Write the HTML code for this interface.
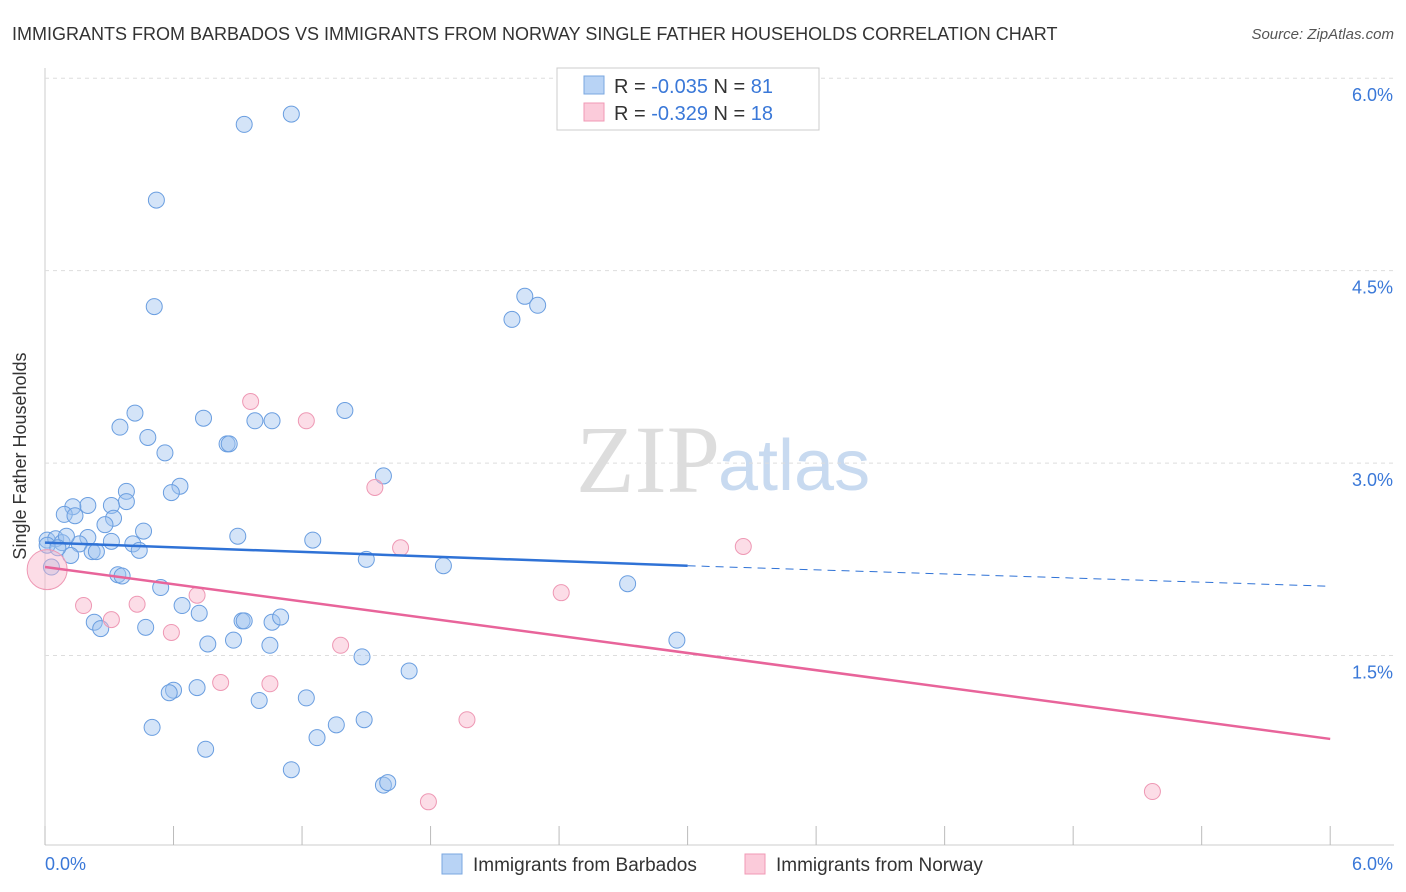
<!DOCTYPE html>
<html><head><meta charset="utf-8"><style>
body{margin:0;background:#fff;font-family:"Liberation Sans",sans-serif;}
svg{display:block}
</style></head><body>
<svg id="c" width="1406" height="892">
<text x="12" y="40" font-size="18" fill="#333">IMMIGRANTS FROM BARBADOS VS IMMIGRANTS FROM NORWAY SINGLE FATHER HOUSEHOLDS CORRELATION CHART</text>
<text x="1394" y="39" font-size="15" fill="#555" text-anchor="end" font-style="italic">Source: ZipAtlas.com</text>
<text x="26" y="456" font-size="18" fill="#333" text-anchor="middle" transform="rotate(-90 26 456)">Single Father Households</text>
<text x="720" y="492" font-size="96" fill="#ddd" font-family="Liberation Serif" text-anchor="end">ZIP</text>
<text x="718" y="490" font-size="72" fill="#c8daf0">atlas</text>
<g id="grid"></g><g id="pts"></g><g id="lines"></g>
<g>
<rect x="557" y="68" width="262" height="62" fill="#fff" stroke="#ccc"/>
<rect x="584" y="76" width="20" height="18" fill="#b8d3f5" stroke="#7aa7e0"/>
<rect x="584" y="103" width="20" height="18" fill="#fbcbda" stroke="#f09ab5"/>
<text x="614" y="93" font-size="20" fill="#333">R = <tspan fill="#3a78d8">-0.035</tspan>   N = <tspan fill="#3a78d8">81</tspan></text>
<text x="614" y="120" font-size="20" fill="#333">R = <tspan fill="#3a78d8">-0.329</tspan>   N = <tspan fill="#3a78d8">18</tspan></text>
</g>
<g>
<rect x="442" y="854" width="20" height="20" fill="#b8d3f5" stroke="#7aa7e0"/>
<text x="473" y="871" font-size="19" fill="#333">Immigrants from Barbados</text>
<rect x="745" y="854" width="20" height="20" fill="#fbcbda" stroke="#f09ab5"/>
<text x="776" y="871" font-size="19" fill="#333">Immigrants from Norway</text>
</g>
</svg>
<script>
const xTicks=[0,0.6,1.2,1.8,2.4,3.0,3.6,4.2,4.8,5.4,6.0];
const yTicks=[1.5,3.0,4.5,6.0];
const yTickLabels=["1.5%","3.0%","4.5%","6.0%"];
const xEndLabels=["0.0%","6.0%"];
const barbadosX=[0.93,1.15,0.52,0.51,2.24,2.30,2.18,0.42,0.35,0.48,0.74,1.40,0.98,1.06,0.85,0.86,0.56,1.58,0.63,0.59,0.38,0.38,0.31,0.20,0.13,0.09,0.14,0.32,0.28,0.46,0.90,1.25,0.01,0.05,0.08,0.20,0.16,0.10,0.41,0.44,0.22,0.24,0.12,1.50,1.86,0.03,0.34,0.36,0.54,2.72,0.64,0.72,0.23,0.26,0.47,0.92,0.93,1.06,1.10,0.76,0.88,1.05,2.95,1.48,1.70,0.60,0.58,0.71,1.22,1.00,0.50,1.36,1.49,1.27,0.75,1.15,1.58,1.60,0.01,0.06,0.31];
const barbadosY=[5.64,5.72,5.05,4.22,4.30,4.23,4.12,3.39,3.28,3.20,3.35,3.41,3.33,3.33,3.15,3.15,3.08,2.90,2.82,2.77,2.78,2.70,2.67,2.67,2.66,2.60,2.59,2.57,2.52,2.47,2.43,2.40,2.40,2.41,2.38,2.42,2.37,2.43,2.37,2.32,2.31,2.31,2.28,2.25,2.20,2.19,2.13,2.12,2.03,2.06,1.89,1.83,1.76,1.71,1.72,1.77,1.77,1.76,1.80,1.59,1.62,1.58,1.62,1.49,1.38,1.23,1.21,1.25,1.17,1.15,0.94,0.96,1.00,0.86,0.77,0.61,0.49,0.51,2.36,2.34,2.39];
const norwayX=[0.96,1.22,1.54,1.66,3.26,2.41,0.71,0.18,0.43,0.31,0.59,1.38,0.82,1.05,1.97,1.79,5.17,0.01];
const norwayY=[3.48,3.33,2.81,2.34,2.35,1.99,1.97,1.89,1.90,1.78,1.68,1.58,1.29,1.28,1.00,0.36,0.44,2.17];
const trendB=[[0,2.38],[3.0,2.2],[6.0,2.04]];
const trendN=[[0,2.19],[6.0,0.85]];
const X=v=>45+v*214.2, Y=v=>848-v*128.3;
const NS="http://www.w3.org/2000/svg";
function mk(t,a,p){const e=document.createElementNS(NS,t);for(const k in a)e.setAttribute(k,a[k]);p.appendChild(e);return e;}
const g=document.getElementById('grid');
mk('line',{x1:45,y1:68,x2:45,y2:845,stroke:'#ccc'},g);
mk('line',{x1:45,y1:845,x2:1394,y2:845,stroke:'#ccc'},g);
yTicks.forEach((t,i)=>{
const l=mk('line',{x1:45,y1:Y(t),x2:1394,y2:Y(t),stroke:'#ddd','stroke-dasharray':'4,4'},g);


const tx=mk('text',{x:1393,y:Y(t)+23,'font-size':18,fill:'#3a78d8','text-anchor':'end'},g);
tx.textContent=yTickLabels[i];


});
xTicks.forEach(t=>{const l=mk('line',{x1:X(t),y1:826,x2:X(t),y2:845,stroke:'#bbb'},g);

});
[[0,'start',45],[6,'end',1393]].forEach((d,i)=>{const tx=mk('text',{x:d[2],y:870,'font-size':18,fill:'#3a78d8','text-anchor':d[1]},g);tx.textContent=xEndLabels[i];

});
const p=document.getElementById('pts');
barbadosX.forEach((x,i)=>{const c=mk('circle',{cx:X(x),cy:Y(barbadosY[i]),r:8,fill:'rgba(160,196,240,0.45)',stroke:'#6a9ee0','stroke-width':1},p);

});
norwayX.forEach((x,i)=>{const c=mk('circle',{cx:X(x),cy:Y(norwayY[i]),r:i==norwayX.length-1?20:8,fill:'rgba(248,180,202,0.45)',stroke:'#ee98b4','stroke-width':1},p);

});
const L=document.getElementById('lines');
const b1=mk('line',{x1:X(trendB[0][0]),y1:Y(trendB[0][1]),x2:X(trendB[1][0]),y2:Y(trendB[1][1]),stroke:'#2f72d6','stroke-width':2.5},L);


const b2=mk('line',{x1:X(trendB[1][0]),y1:Y(trendB[1][1]),x2:X(trendB[2][0]),y2:Y(trendB[2][1]),stroke:'#2f72d6','stroke-width':1,'stroke-dasharray':'8,6'},L);


const n1=mk('line',{x1:X(trendN[0][0]),y1:Y(trendN[0][1]),x2:X(trendN[1][0]),y2:Y(trendN[1][1]),stroke:'#e8649a','stroke-width':2.5},L);


</script>
</body></html>
